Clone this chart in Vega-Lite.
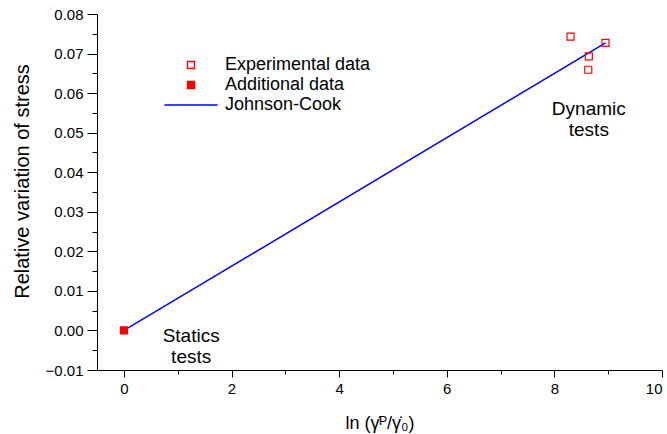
{
  "$schema": "https://vega.github.io/schema/vega-lite/v6.json",
  "width": 565,
  "height": 356,
  "autosize": {"type": "none"},
  "padding": {"left": 97, "top": 14, "right": 5, "bottom": 64},
  "background": "white",
  "resolve": {"axis": {"x": "independent", "y": "independent"}},
  "config": {
    "view": {"stroke": null},
    "font": "Liberation Sans",
    "axis": {
      "grid": false,
      "domainColor": "black",
      "tickColor": "black",
      "labelColor": "black",
      "titleColor": "black",
      "labelFont": "Liberation Sans",
      "titleFont": "Liberation Sans",
      "titleFontWeight": "normal",
      "labelFontSize": 15,
      "labelOverlap": false,
      "domainWidth": 1,
      "tickWidth": 1
    },
    "legend": {
      "orient": "none",
      "legendX": 85,
      "legendY": 42,
      "padding": 0,
      "labelFont": "Liberation Sans",
      "labelFontSize": 18,
      "labelColor": "black",
      "symbolSize": 49,
      "symbolStrokeWidth": 1.4,
      "labelOffset": 25,
      "rowPadding": 2
    }
  },
  "layer": [
    {
      "data": {"values": [
        {"x": 0, "y": 0},
        {"x": 8.95, "y": 0.0727}
      ]},
      "mark": {"type": "line", "color": "#0000ff", "strokeWidth": 1.5},
      "encoding": {
        "x": {
          "field": "x", "type": "quantitative",
          "scale": {"domain": [-0.5, 10], "nice": false, "zero": false},
          "axis": {
            "orient": "bottom",
            "values": [0, 2, 4, 6, 8, 10],
            "format": "d",
            "tickSize": 7,
            "labelPadding": 4,
            "title": "ln (\u03b3\u0307\u1d3e/\u03b3\u0307\u2080)",
            "titleFontSize": 18,
            "titleY": 53,
            "titleBaseline": "middle",
            "titleAlign": "center"
          }
        },
        "y": {
          "field": "y", "type": "quantitative",
          "scale": {"domain": [-0.01, 0.08], "nice": false, "zero": false},
          "axis": {
            "orient": "left",
            "values": [-0.01, 0, 0.01, 0.02, 0.03, 0.04, 0.05, 0.06, 0.07, 0.08],
            "format": ".2f",
            "tickSize": 10,
            "labelPadding": 4,
            "title": "Relative variation of stress",
            "titleFontSize": 20,
            "titleX": -75,
            "titleY": 167,
            "titleAngle": -90,
            "titleBaseline": "middle",
            "titleAlign": "center"
          }
        }
      }
    },
    {
      "data": {"values": [
        {"x": 8.30, "y": 0.0743, "series": "Experimental data"},
        {"x": 8.95, "y": 0.0727, "series": "Experimental data"},
        {"x": 8.64, "y": 0.0693, "series": "Experimental data"},
        {"x": 8.63, "y": 0.0659, "series": "Experimental data"},
        {"x": 0, "y": 0, "series": "Additional data"}
      ]},
      "mark": {"type": "point", "size": 49, "strokeWidth": 1.2, "opacity": 1},
      "encoding": {
        "x": {"field": "x", "type": "quantitative", "axis": null},
        "y": {"field": "y", "type": "quantitative", "axis": null},
        "shape": {
          "field": "series", "type": "nominal",
          "scale": {"domain": ["Experimental data", "Additional data", "Johnson-Cook"], "range": ["square", "square", "M-7.6,0H7.6"]},
          "legend": {"title": null}
        },
        "fill": {
          "field": "series", "type": "nominal",
          "scale": {"domain": ["Experimental data", "Additional data", "Johnson-Cook"], "range": ["transparent", "#ff0000", "transparent"]},
          "legend": {"title": null}
        },
        "stroke": {
          "field": "series", "type": "nominal",
          "scale": {"domain": ["Experimental data", "Additional data", "Johnson-Cook"], "range": ["#ff0000", "#ff0000", "#0000ff"]},
          "legend": {"title": null}
        }
      }
    },
    {
      "data": {"values": [
        {"x": 8.64, "y": 0.0561, "label": "Dynamic\ntests"},
        {"x": 1.25, "y": -0.0013, "label": "Statics\ntests"}
      ]},
      "mark": {"type": "text", "align": "center", "baseline": "middle", "lineBreak": "\n", "fontSize": 19, "lineHeight": 21, "font": "Liberation Sans", "color": "black"},
      "encoding": {
        "x": {
          "field": "x", "type": "quantitative",
          "axis": {"orient": "bottom", "values": [1, 3, 5, 7, 9], "labels": false, "domain": false, "tickSize": 4, "title": null}
        },
        "y": {
          "field": "y", "type": "quantitative",
          "axis": {"orient": "left", "values": [-0.005, 0.005, 0.015, 0.025, 0.035, 0.045, 0.055, 0.065, 0.075], "labels": false, "domain": false, "tickSize": 5, "title": null}
        },
        "text": {"field": "label", "type": "nominal"}
      }
    }
  ]
}
